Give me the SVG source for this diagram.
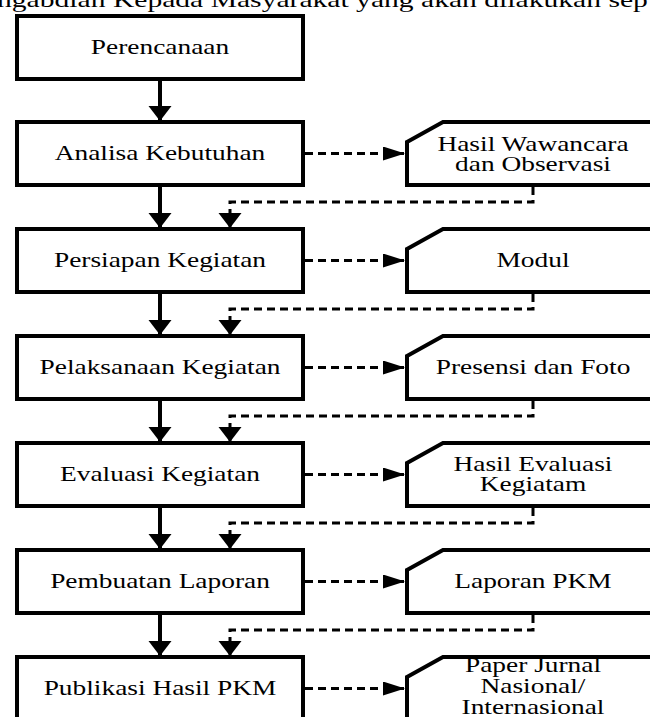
<svg xmlns="http://www.w3.org/2000/svg" width="650" height="717" viewBox="0 0 650 717">
<style>
.box{fill:#fff;stroke:#000;stroke-width:4;stroke-linejoin:miter}
.t{font-family:"Liberation Serif","Times New Roman",serif;font-size:20px;fill:#000;text-anchor:middle}
.solid{fill:none;stroke:#000;stroke-width:4}
.dash{fill:none;stroke:#000;stroke-width:3;stroke-dasharray:8 5}
.dot{fill:none;stroke:#000;stroke-width:3;stroke-dasharray:8 5}
</style>
<defs>
<marker id="ad" markerUnits="userSpaceOnUse" viewBox="0 0 16 24" markerWidth="16" markerHeight="24" refX="15" refY="12" orient="auto"><path d="M0,0.5 L15,12 L0,23.5 Z" fill="#000" stroke="none"/></marker>
<marker id="ar" markerUnits="userSpaceOnUse" viewBox="0 0 23 14" markerWidth="23" markerHeight="14" refX="22" refY="7" orient="auto"><path d="M0,0 L22,7 L0,14 Z" fill="#000" stroke="none"/></marker>
</defs>

<text class="t" style="text-anchor:start;font-size:21px" transform="translate(-3,7) scale(1.41,1)">ngabdian Kepada Masyarakat yang akan dilakukan sep</text>

<g id="connectors">
<path class="solid" d="M160,79 V121" marker-end="url(#ad)"/>
<path class="solid" d="M160,185 V228" marker-end="url(#ad)"/>
<path class="solid" d="M160,292 V335" marker-end="url(#ad)"/>
<path class="solid" d="M160,399 V442" marker-end="url(#ad)"/>
<path class="solid" d="M160,506 V549" marker-end="url(#ad)"/>
<path class="solid" d="M160,613 V656" marker-end="url(#ad)"/>

<path class="dash" d="M305,153.5 H405" marker-end="url(#ar)"/>
<path class="dash" d="M305,260.5 H405" marker-end="url(#ar)"/>
<path class="dash" d="M305,367.5 H405" marker-end="url(#ar)"/>
<path class="dash" d="M305,474.5 H405" marker-end="url(#ar)"/>
<path class="dash" d="M305,581.5 H405" marker-end="url(#ar)"/>
<path class="dash" d="M305,688.5 H405" marker-end="url(#ar)"/>

<path class="dot" d="M533,187 V202 H230 V228" marker-end="url(#ad)"/>
<path class="dot" d="M533,294 V309 H230 V335" marker-end="url(#ad)"/>
<path class="dot" d="M533,401 V416 H230 V442" marker-end="url(#ad)"/>
<path class="dot" d="M533,508 V523 H230 V549" marker-end="url(#ad)"/>
<path class="dot" d="M533,615 V630 H230 V656" marker-end="url(#ad)"/>
</g>

<g id="perencanaan"><rect class="box" x="17" y="16" width="286" height="63"/><text class="t" transform="translate(160,54) scale(1.37,1)">Perencanaan</text></g>

<g id="analisa"><rect class="box" x="17" y="122" width="286" height="63"/><text class="t" transform="translate(160,160) scale(1.37,1)">Analisa Kebutuhan</text></g>
<g id="hasil-wawancara"><path class="box" d="M407,142 L443,122 H670 V185 H407 Z"/><text class="t" transform="translate(533,151) scale(1.37,1)">Hasil Wawancara</text><text class="t" transform="translate(533,171) scale(1.37,1)">dan Observasi</text></g>

<g id="persiapan"><rect class="box" x="17" y="229" width="286" height="63"/><text class="t" transform="translate(160,267) scale(1.37,1)">Persiapan Kegiatan</text></g>
<g id="modul"><path class="box" d="M407,249 L443,229 H670 V292 H407 Z"/><text class="t" transform="translate(533,267) scale(1.37,1)">Modul</text></g>

<g id="pelaksanaan"><rect class="box" x="17" y="336" width="286" height="63"/><text class="t" transform="translate(160,374) scale(1.37,1)">Pelaksanaan Kegiatan</text></g>
<g id="presensi"><path class="box" d="M407,356 L443,336 H670 V399 H407 Z"/><text class="t" transform="translate(533,374) scale(1.37,1)">Presensi dan Foto</text></g>

<g id="evaluasi"><rect class="box" x="17" y="443" width="286" height="63"/><text class="t" transform="translate(160,481) scale(1.37,1)">Evaluasi Kegiatan</text></g>
<g id="hasil-evaluasi"><path class="box" d="M407,463 L443,443 H670 V506 H407 Z"/><text class="t" transform="translate(533,471) scale(1.37,1)">Hasil Evaluasi</text><text class="t" transform="translate(533,491) scale(1.37,1)">Kegiatam</text></g>

<g id="pembuatan"><rect class="box" x="17" y="550" width="286" height="63"/><text class="t" transform="translate(160,588) scale(1.37,1)">Pembuatan Laporan</text></g>
<g id="laporan"><path class="box" d="M407,570 L443,550 H670 V613 H407 Z"/><text class="t" transform="translate(533,588) scale(1.37,1)">Laporan PKM</text></g>

<g id="publikasi"><rect class="box" x="17" y="657" width="286" height="70"/><text class="t" transform="translate(160,695) scale(1.37,1)">Publikasi Hasil PKM</text></g>
<g id="paper"><path class="box" d="M407,677 L443,657 H670 V730 H407 Z"/><text class="t" transform="translate(533,672) scale(1.37,1)">Paper Jurnal</text><text class="t" transform="translate(533,693) scale(1.37,1)">Nasional/</text><text class="t" transform="translate(533,714) scale(1.37,1)">Internasional</text></g>
</svg>
